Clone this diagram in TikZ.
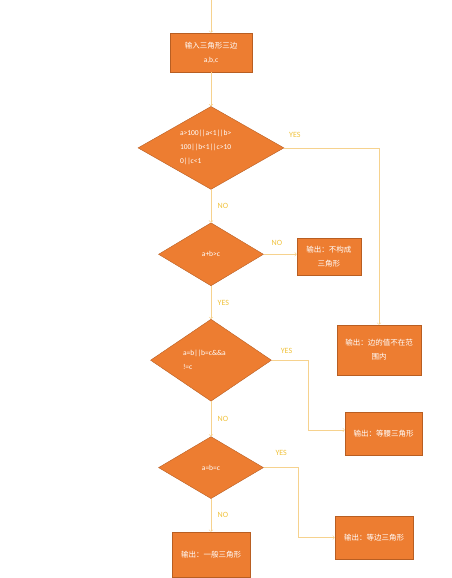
\documentclass[tikz,border=0pt]{standalone}
\usepackage{fontspec}
\setmainfont{Carlito}
\newfontfamily\cjk{Noto Sans CJK SC}
\usepackage{xcolor}
\usetikzlibrary{shapes.geometric, arrows, positioning}
\definecolor{boxfill}{HTML}{ED7D31}
\definecolor{boxline}{HTML}{B85E22}
\definecolor{flowline}{HTML}{F6D28E}
\definecolor{yesno}{HTML}{F0C23C}

\begin{document}
\begin{tikzpicture}[
        x=1pt, y=1pt,
        node distance=34pt,
        font=\fontsize{7.5}{14}\selectfont,
        outbox/.style={rectangle, draw=boxline, fill=boxfill, text=white, align=center, inner sep=1pt},
        decision/.style={diamond, draw=boxline, fill=boxfill, text=white, inner sep=0pt, align=left},
        line/.style={->, draw=flowline, line width=0.6pt},
        answer/.style={text=yesno, font=\fontsize{8}{9}\selectfont}
    ]
        \useasboundingbox (0,0) rectangle (451,-578);
        % Nodes
        \coordinate (start) at (211,0);
        \node (in) [outbox, minimum width=82pt, minimum height=39pt] at (211,-52.5) {{\cjk 输入三角形三边}\\a,b,c};
        \node (d1) [decision, shape aspect=1.76, minimum width=146pt, minimum height=83pt, text width=62pt, below=of in] {a>100||a<1||b>\\100||b<1||c>10\\0||c<1};
        \node (d2) [decision, shape aspect=1.67, minimum width=105pt, minimum height=63pt, align=center, below=33pt of d1] {a+b>c};
        \node (d3) [decision, shape aspect=1.48, minimum width=121pt, minimum height=82pt, text width=56pt, below=33pt of d2] {a=b||b=c\&\&a\\!=c};
        \node (d4) [decision, shape aspect=1.69, minimum width=105pt, minimum height=62pt, align=center, below=35pt of d3] {a=b=c};
        \node (gen) [outbox, minimum width=78pt, minimum height=45pt, below=33pt of d4] {\cjk 输出：一般三角形};

        \node (notri) [outbox, minimum width=64pt, minimum height=37pt, right=33pt of d2, yshift=-2pt] {\cjk 输出：不构成\\\cjk 三角形};
        \node (range) [outbox, minimum width=84pt, minimum height=50pt] at (379,-350) {\cjk 输出：边的值不在范\\\cjk 围内};
        \node (iso) [outbox, minimum width=77pt, minimum height=43pt] at (383.5,-433.5) {\cjk 输出：等腰三角形};
        \node (equi) [outbox, minimum width=78pt, minimum height=43pt] at (374,-537.5) {\cjk 输出：等边三角形};

        % Arrows
        \draw [line] (start) -- (in);
        \draw [line] (in) -- (d1);
        \draw [line] (d1.east) -| node [answer, pos=0.056, above=7pt] {YES} (range.north);
        \draw [line] (d1) -- node [answer, right=3pt] {NO} (d2);
        \draw [line] (d2.east) -- node [answer, above=5pt, pos=0.4] {NO} (d2.east -| notri.west);
        \draw [line] (d2) -- node [answer, right=3pt] {YES} (d3);
        \draw [line] (d3.east) -- node [answer, above=3pt, pos=0.4] {YES} ++(37,0) |- (iso.west |- 0,-430);
        \draw [line] (d3) -- node [answer, right=3pt] {NO} (d4);
        \draw [line] (d4.east) -- node [answer, above=8pt, pos=0.5] {YES} ++(35,0) |- (equi.west);
        \draw [line] (d4) -- node [answer, right=3pt] {NO} (gen);
\end{tikzpicture}
\end{document}
